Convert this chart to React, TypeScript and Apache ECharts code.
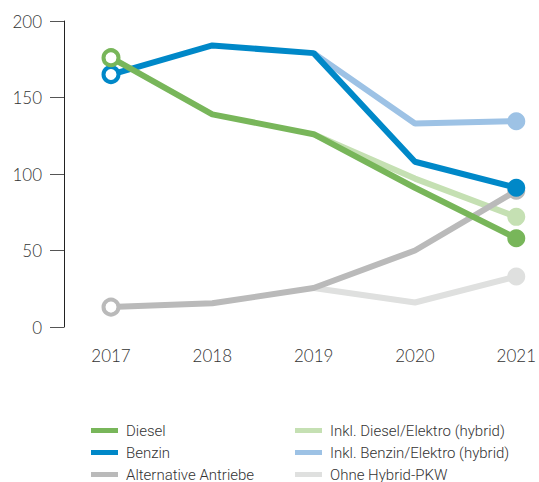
import React, { useEffect, useRef } from "react";
import * as echarts from "echarts";

const years = ["2017", "2018", "2019", "2020", "2021"];
const diesel = [176, 139, 126, 91, 58];
const benzin = [165, 184, 179, 108, 91];
const alternative = [13, 15.5, 25.5, 50, 89];
const dieselHybrid = [null, null, 126, 97, 72];
const benzinHybrid = [null, null, 179, 133, 134.5];
const ohneHybrid = [null, null, 25.5, 16, 33];

const names = [
  "Diesel",
  "Benzin",
  "Alternative Antriebe",
  "Inkl. Diesel/Elektro (hybrid)",
  "Inkl. Benzin/Elektro (hybrid)",
  "Ohne Hybrid-PKW",
];
const colors = ["#78b65a", "#0088c8", "#bababa", "#c5e0b3", "#9dc2e5", "#dfe0df"];

function makeData(values: (number | null)[], color: string, hollowStart: boolean) {
  const lastIdx = values.length - 1;
  return values.map((v, i) => {
    if (v === null) return "-";
    if (i === 0 && hollowStart) {
      return {
        value: v,
        symbol: "circle",
        symbolSize: 15,
        itemStyle: { color: "#fff", borderColor: color, borderWidth: 4 },
      };
    }
    if (i === lastIdx) {
      return {
        value: v,
        symbol: "circle",
        symbolSize: 18,
        itemStyle: { color, borderWidth: 0 },
      };
    }
    return { value: v, symbol: "none" };
  });
}

export default function App() {
  const ref = useRef<HTMLDivElement>(null);
  useEffect(() => {
    if (!ref.current) return;
    const chart = echarts.init(ref.current, null, { renderer: "svg" });
    const seriesDefs = [
      { idx: 3, values: dieselHybrid, hollow: false },
      { idx: 4, values: benzinHybrid, hollow: false },
      { idx: 5, values: ohneHybrid, hollow: false },
      { idx: 2, values: alternative, hollow: true },
      { idx: 1, values: benzin, hollow: true },
      { idx: 0, values: diesel, hollow: true },
    ];
    const font = "Lato";
    const legendText = {
      color: "#333",
      fontSize: 15,
      fontFamily: "Roboto",
      fontWeight: 300,
      lineHeight: 14,
      padding: [0, 0, 0, 3],
    };
    chart.setOption({
      animation: false,
      color: colors,
      grid: { left: 111, right: 21, top: 21, bottom: 155 },
      xAxis: {
        type: "category",
        data: years,
        boundaryGap: false,
        axisLine: { show: false },
        axisTick: { show: false },
        axisLabel: { color: "#333", fontSize: 17, fontFamily: font, fontWeight: 300, margin: 20 },
        splitLine: { show: false },
      },
      yAxis: {
        type: "value",
        min: 0,
        max: 200,
        interval: 50,
        offset: 47,
        axisLine: { show: true, lineStyle: { color: "#222", width: 1 } },
        axisTick: { show: true, length: 14, lineStyle: { color: "#555", width: 1 } },
        axisLabel: { color: "#333", fontSize: 17, fontFamily: font, fontWeight: 300, margin: 22 },
        splitLine: { show: false },
      },
      legend: [
        {
          orient: "vertical",
          left: 91,
          top: 423,
          height: 80,
          padding: 0,
          data: names.slice(0, 3),
          icon: "rect",
          itemWidth: 27,
          itemHeight: 5,
          itemGap: 7,
          textStyle: legendText,
        },
        {
          orient: "vertical",
          left: 295,
          top: 423,
          height: 80,
          padding: 0,
          data: names.slice(3),
          icon: "rect",
          itemWidth: 27,
          itemHeight: 5,
          itemGap: 7,
          textStyle: legendText,
        },
      ],
      series: seriesDefs.map((d) => ({
        name: names[d.idx],
        type: "line",
        data: makeData(d.values, colors[d.idx], d.hollow),
        color: colors[d.idx],
        lineStyle: { width: 6, color: colors[d.idx] },
        itemStyle: { color: colors[d.idx] },
        showSymbol: true,
        connectNulls: false,
        emphasis: { disabled: true },
      })),
    });
    return () => chart.dispose();
  }, []);
  return (
    <div
      ref={ref}
      style={{ position: "absolute", left: 0, top: 0, width: 539, height: 482 }}
    />
  );
}
